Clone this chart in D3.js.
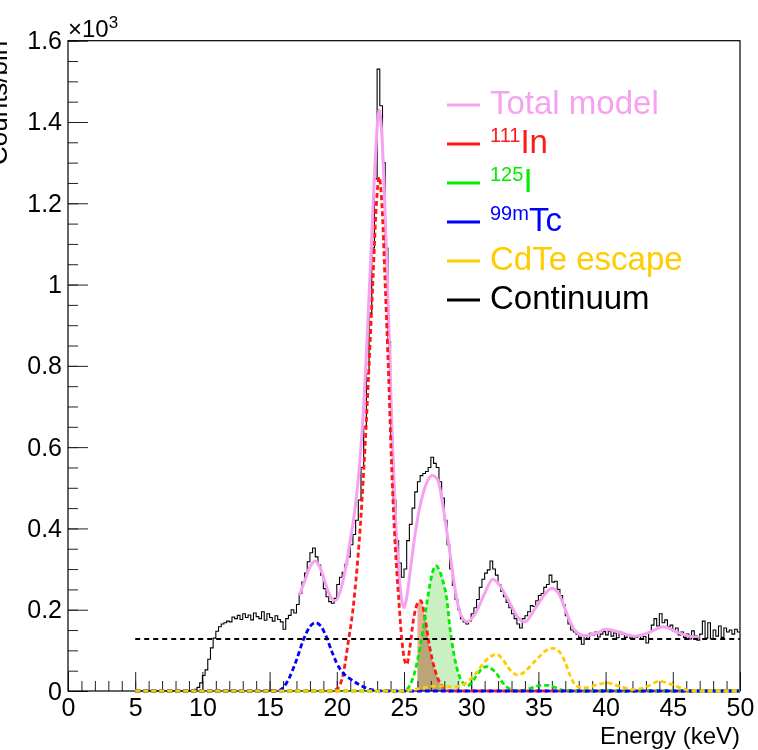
<!DOCTYPE html>
<meta charset="utf-8">
<html>
<head>
<script src="https://d3js.org/d3.v7.min.js"></script>
<style>
  body { margin: 0; background: white; }
  svg text { font-family: "Liberation Sans", Arial, Helvetica, sans-serif; }
</style>
</head>
<body>
<div id="plotArea"></div>
<script>
  // measured spectrum: counts per 0.2 keV bin, first bin starts at 5 keV
  const binStart = 5, binWidth = 0.2;
  const counts = [
    0,0,0,0,0, 0,0,0,0,0, 0,0,0,0,0, 0,0,0,0,0,
    0,2,4,9,20,          38,52,78,106,130,       147,158,165,168,172,
    170,182,178,186,176, 190,181,187,175,192,    183,178,195,174,190,
    181,172,185,176,170, 152,178,186,200,192,    213,240,268,290,318,
    340,352,330,310,285, 252,232,220,216,228,    262,280,292,312,330,
    360,385,420,470,550, 650,780,930,1090,1260,  1530,1440,1300,1090,860,
    620,470,370,315,280, 300,370,410,450,490,    515,530,535,540,550,
    575,560,550,515,475, 420,360,300,260,225,    200,178,170,165,172,
    190,205,225,255,275, 290,298,320,300,285,    262,245,232,218,205,
    190,178,165,155,178, 185,195,210,208,222,    235,240,255,262,285,
    268,270,250,235,212, 185,165,150,145,140,    132,115,135,128,142,
    138,145,133,140,146, 138,147,135,143,131,    145,140,132,138,130,
    135,132,137,129,134, 118,145,162,178,160,    190,168,175,158,162,
    148,155,138,145,132, 140,128,148,135,125,    140,172,130,168,128,
    150,135,160,132,155, 145,150,140,152,145
  ];

  // fitted components, [energy keV, counts]
  const totalModel = [[17.2,235],[17.6,270],[18.0,305],[18.4,320],[18.8,300],[19.2,260],[19.6,228],[19.9,222],
    [20.3,250],[20.7,310],[21.0,370],[21.4,460],[21.7,560],[22.0,700],[22.3,900],[22.6,1120],[22.9,1330],
    [23.15,1430],[23.35,1370],[23.6,1170],[23.85,920],[24.1,650],[24.35,440],[24.6,300],[24.8,230],[25.0,205],
    [25.2,230],[25.5,305],[25.8,380],[26.1,440],[26.5,495],[26.8,520],[27.1,530],[27.5,520],[27.9,455],
    [28.2,390],[28.5,320],[28.8,250],[29.2,190],[29.7,170],[30.3,190],[31.0,240],[31.6,275],[32.0,265],
    [32.4,245],[32.9,215],[33.5,180],[34.0,170],[34.7,200],[35.3,230],[36.0,253],[36.5,240],[36.9,210],
    [37.3,175],[37.7,150],[38.4,136],[39.3,142],[40.0,152],[41.0,145],[42.2,135],[43.3,145],[44.3,158],
    [45.3,145],[46.2,135],[47.0,132]];

  const in111 = [[5,0],[19.5,0],[20.0,5],[20.5,45],[20.85,120],[21.2,200],[21.5,300],[21.8,430],[22.1,600],
    [22.4,800],[22.7,1020],[22.95,1200],[23.15,1265],[23.35,1200],[23.6,1000],[23.85,780],[24.05,580],
    [24.25,420],[24.45,300],[24.6,230],[24.8,140],[25.05,75],[25.2,65],[25.45,110],[25.7,175],[26.05,218],
    [26.25,222],[26.55,183],[26.9,110],[27.3,52],[27.6,25],[27.9,10],[28.3,0],[50,0]];

  const i125 = [[5,0],[25.0,0],[25.4,12],[25.7,35],[26.0,75],[26.2,110],[26.5,170],[26.7,216],[27.0,275],
    [27.2,300],[27.4,308],[27.65,295],[27.9,270],[28.2,222],[28.4,160],[28.7,93],[29.05,43],[29.4,19],
    [29.7,12],[30.0,20],[30.4,38],[30.8,55],[31.15,60],[31.5,55],[31.9,42],[32.4,18],[32.8,6],[33.4,0],
    [34.0,2],[34.6,9],[35.2,14],[35.7,14],[36.2,9],[36.8,2],[37.3,0],[50,0]];

  const tc99m = [[5,0],[15.5,0],[16.0,8],[16.5,35],[17.0,76],[17.5,125],[18.0,158],[18.4,168],[18.8,160],
    [19.2,135],[19.6,100],[20.0,68],[20.5,43],[21.0,30],[21.7,15],[22.5,4],[23.5,0],[50,0]];

  const cdteEscape = [[5,0],[25.0,0],[25.8,4],[26.5,8],[27.3,12],[28.0,12],[28.7,10],[29.4,16],[29.9,28],
    [30.4,45],[30.9,68],[31.4,84],[31.9,90],[32.3,80],[32.7,60],[33.1,45],[33.5,39],[34.0,48],[34.5,65],
    [35.0,82],[35.5,98],[36.1,105],[36.6,95],[37.0,70],[37.4,35],[37.85,12],[38.5,8],[39.3,15],[40.1,20],
    [41.0,12],[42.1,4],[43.1,11],[44.0,24],[45.0,15],[46.0,3],[47.0,0],[50,0]];

  const continuum = [[5,128],[50,128]];

  // shaded integration window (keV)
  const fillWindow = [26.0, 29.2];

  const xTicks = [0,5,10,15,20,25,30,35,40,45,50];
  const yTicks = [0,200,400,600,800,1000,1200,1400,1600];
  const yTickLabels = ["0","0.2","0.4","0.6","0.8","1","1.2","1.4","1.6"];

  const legendItems = [
    {sup: "",    main: "Total model", color: "#f7a2f0"},
    {sup: "111", main: "In",          color: "#ff1a1a"},
    {sup: "125", main: "I",           color: "#00ee00"},
    {sup: "99m", main: "Tc",          color: "#0000ff"},
    {sup: "",    main: "CdTe escape", color: "#ffcc00"},
    {sup: "",    main: "Continuum",   color: "#000000"}
  ];

  const W = 758, H = 750;
  const svg = d3.select("#plotArea").append("svg").attr("width", W).attr("height", H);

  const x = d3.scaleLinear().domain([0, 50]).range([68, 740]);
  const y = d3.scaleLinear().domain([0, 1600]).range([691, 40.7]);

  const smooth = d3.line().x(d => x(d[0])).y(d => y(d[1])).curve(d3.curveMonotoneX);
  const area = d3.area().x(d => x(d[0])).y0(y(0)).y1(d => y(d[1])).curve(d3.curveMonotoneX);

  // filled window under 125I and 111In
  svg.append("clipPath").attr("id", "win").append("rect")
    .attr("x", x(fillWindow[0])).attr("width", x(fillWindow[1]) - x(fillWindow[0]))
    .attr("y", y(1600)).attr("height", y(0) - y(1600));
  svg.append("path").datum(i125).attr("d", area).attr("clip-path", "url(#win)")
    .attr("fill", "#c9f0c1");
  svg.append("path").datum(in111).attr("d", area).attr("clip-path", "url(#win)")
    .attr("fill", "#eeae9c").style("mix-blend-mode", "multiply");

  // axes: ticks pointing into the frame
  svg.append("g").attr("transform", `translate(0,${y(0)})`)
    .call(d3.axisBottom(x).tickValues(xTicks).tickSize(-19).tickSizeOuter(0).tickPadding(7));
  svg.append("g").attr("transform", `translate(0,${y(0)})`)
    .call(d3.axisBottom(x).tickValues(d3.range(0, 51, 1)).tickSize(-10).tickSizeOuter(0).tickFormat(""));
  svg.append("g").attr("transform", `translate(${x(0)},0)`)
    .call(d3.axisLeft(y).tickValues(yTicks).tickSize(-20).tickSizeOuter(0).tickPadding(6)
      .tickFormat((d, i) => yTickLabels[i]));
  svg.append("g").attr("transform", `translate(${x(0)},0)`)
    .call(d3.axisLeft(y).tickValues(d3.range(0, 1601, 50)).tickSize(-10).tickSizeOuter(0).tickFormat(""));
  svg.selectAll(".domain").remove();
  svg.selectAll(".tick line").attr("stroke", "#222");
  svg.selectAll(".tick text").attr("font-size", 25).attr("fill", "black")
    .attr("font-family", "Liberation Sans, Arial, sans-serif");

  // frame
  svg.append("rect").attr("x", x(0)).attr("y", y(1600))
    .attr("width", x(50) - x(0)).attr("height", y(0) - y(1600))
    .attr("fill", "none").attr("stroke", "black").attr("stroke-width", 1.2);

  // data histogram
  const histPts = counts.map((c, i) => [binStart + i * binWidth, c]);
  histPts.push([binStart + counts.length * binWidth, counts[counts.length - 1]]);
  svg.append("path").datum(histPts)
    .attr("d", d3.line().x(d => x(d[0])).y(d => y(d[1])).curve(d3.curveStepAfter))
    .attr("fill", "none").attr("stroke", "black").attr("stroke-width", 1.1);

  // model curves
  svg.append("path").datum(totalModel).attr("d", smooth)
    .attr("fill", "none").attr("stroke", legendItems[0].color).attr("stroke-width", 3);
  const comps = [[in111, 1], [i125, 2], [tc99m, 3], [cdteEscape, 4]];
  comps.forEach(([d, k]) => {
    svg.append("path").datum(d).attr("d", smooth)
      .attr("fill", "none").attr("stroke", legendItems[k].color)
      .attr("stroke-width", 2.8).attr("stroke-dasharray", "5,3");
  });
  svg.append("path").datum(continuum).attr("d", smooth)
    .attr("fill", "none").attr("stroke", "black").attr("stroke-width", 2).attr("stroke-dasharray", "5,4");

  // legend
  const leg = svg.append("g");
  legendItems.forEach((it, i) => {
    const ly = 105 + i * 39;
    leg.append("line").attr("x1", 447).attr("x2", 480).attr("y1", ly).attr("y2", ly)
      .attr("stroke", it.color).attr("stroke-width", 3);
    const t = leg.append("text").attr("x", 490).attr("y", ly + 9).attr("fill", it.color).attr("font-size", 33);
    if (it.sup) {
      t.append("tspan").attr("font-size", 20).attr("dy", -11).text(it.sup);
      t.append("tspan").attr("dy", 11).text(it.main);
    } else {
      t.text(it.main);
    }
  });

  // exponent label and axis titles
  const ex = svg.append("text").attr("x", 68).attr("y", 37).attr("font-size", 24);
  ex.append("tspan").text("\u00d710");
  ex.append("tspan").attr("font-size", 17).attr("dy", -9).text("3");

  svg.append("text").attr("x", 740).attr("y", 744).attr("text-anchor", "end")
    .attr("font-size", 24).text("Energy (keV)");
  svg.append("text").attr("transform", `translate(7,${y(1600)}) rotate(-90)`)
    .attr("text-anchor", "end").attr("font-size", 26).text("Counts/bin");
</script>
</body>
</html>
